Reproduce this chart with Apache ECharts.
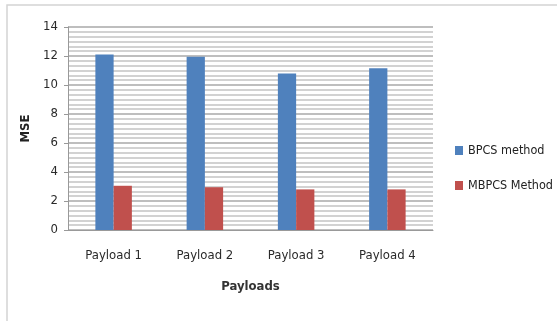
<!DOCTYPE html>
<html>
<head>
<meta charset="utf-8">
<script src="https://cdn.jsdelivr.net/npm/echarts@6/dist/echarts.min.js"></script>
<style>
  html, body { margin: 0; padding: 0; background: #fff; }
  #chart { width: 557px; height: 321px; }
</style>
</head>
<body>
<div id="chart"></div>
<script>
const categories = ['Payload 1', 'Payload 2', 'Payload 3', 'Payload 4']
const bpcs = [12.1, 11.95, 10.8, 11.15]
const mbpcs = [3.05, 2.95, 2.8, 2.8]

const font = '"DejaVu Sans Condensed", "Liberation Sans Narrow", "Roboto", sans-serif'
const chart = echarts.init(document.getElementById('chart'))

chart.setOption({
  animation: false,
  backgroundColor: '#fff',
  graphic: [{
    type: 'rect',
    shape: { x: 7, y: 5, width: 620, height: 360 },
    style: { fill: 'none', stroke: '#d4d4d4', lineWidth: 1.5 }
  }],
  legend: {
    orient: 'vertical',
    left: 450,
    top: 139,
    itemWidth: 8,
    itemHeight: 9,
    itemGap: 22,
    itemStyle: { borderWidth: 0 },
    icon: 'rect',
    textStyle: { fontFamily: font, fontSize: 12.5, color: '#222' },
    data: ['BPCS method', 'MBPCS Method']
  },
  grid: {
    left: 68,
    right: 124,
    top: 27,
    bottom: 91
  },
  xAxis: {
    type: 'category',
    data: categories,
    name: 'Payloads',
    nameLocation: 'middle',
    nameGap: 50,
    nameTextStyle: { fontFamily: font, fontSize: 13, fontWeight: 'bold', color: '#333' },
    axisLine: { lineStyle: { color: '#999' } },
    axisTick: { show: false },
    axisLabel: { fontFamily: font, fontSize: 13, color: '#2a2a2a', margin: 19 }
  },
  yAxis: {
    type: 'value',
    min: 0,
    max: 14,
    interval: 2,
    name: 'MSE',
    nameLocation: 'middle',
    nameGap: 24,
    nameTextStyle: { fontFamily: font, fontSize: 13, fontWeight: 'bold', color: '#222' },
    axisLine: { show: true, lineStyle: { color: '#999' } },
    axisTick: { show: true, length: 4, lineStyle: { color: '#999' } },
    axisLabel: { fontFamily: font, fontSize: 13, color: '#2a2a2a', margin: 10 },
    splitLine: { lineStyle: { color: '#a8a8a8', width: 1.5 } },
    minorTick: { show: false, splitNumber: 6 },
    minorSplitLine: { show: true, lineStyle: { color: '#c4c4c4', width: 1.5 } }
  },
  series: [
    {
      name: 'BPCS method',
      type: 'bar',
      data: bpcs,
      barGap: '0%',
      barCategoryGap: '60%',
      itemStyle: { color: '#4F81BD' }
    },
    {
      name: 'MBPCS Method',
      type: 'bar',
      data: mbpcs,
      itemStyle: { color: '#C0504D' }
    }
  ]
})
</script>
</body>
</html>
